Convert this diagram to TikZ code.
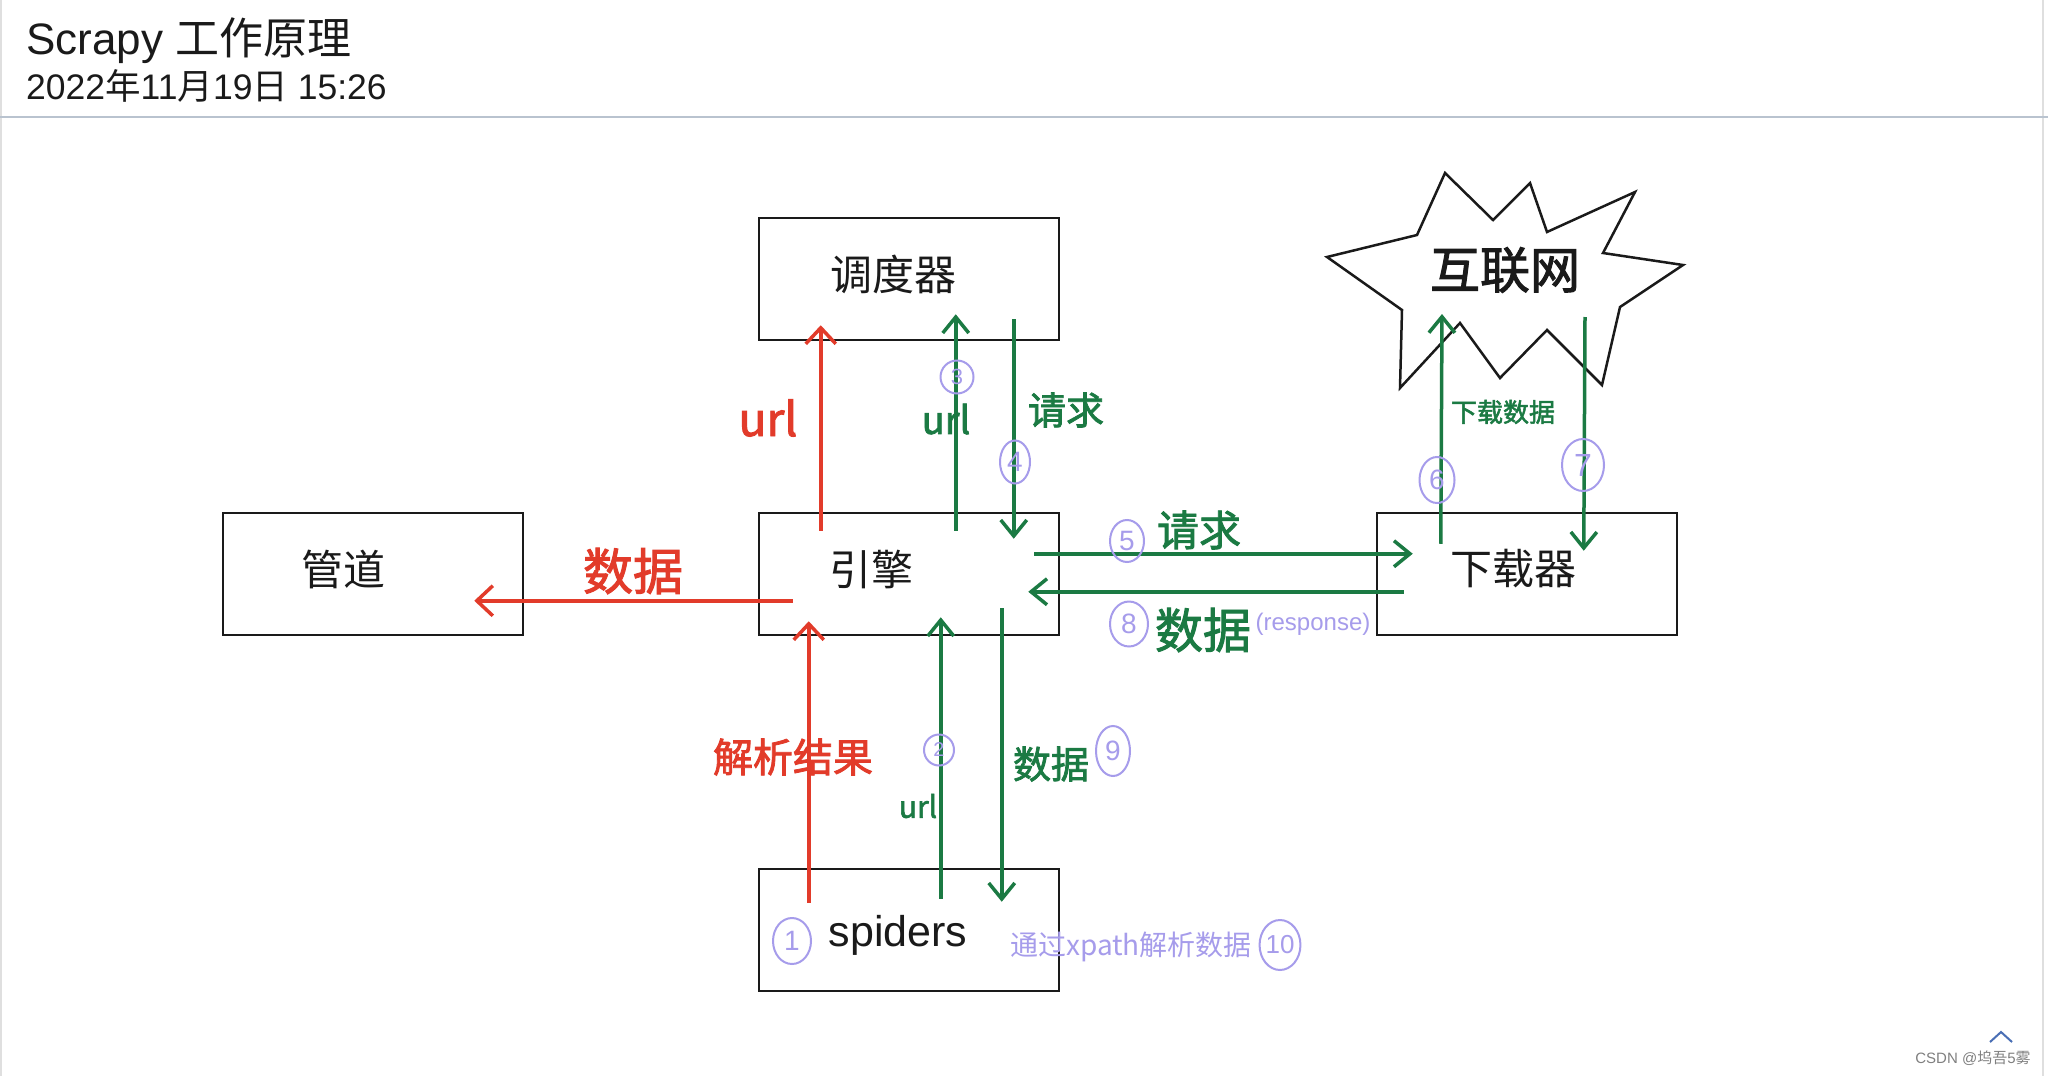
\documentclass[tikz,border=0pt]{standalone}
\usepackage{fontspec}
\setmainfont{Liberation Sans}
\newfontfamily\cjk{Noto Sans CJK SC}
\newfontfamily\cjkb[FakeBold=2]{Noto Sans CJK SC}
\usetikzlibrary{arrows.meta,shapes.geometric,calc}
\definecolor{hred}{HTML}{E23B2A}
\definecolor{hgreen}{HTML}{1B7A43}
\definecolor{lav}{HTML}{A69CEB}
\definecolor{sepc}{HTML}{B9C3CF}
\definecolor{ink}{HTML}{1A1A1A}
\definecolor{chev}{HTML}{4A6FB5}
\newcommand\hwf[1]{\fontsize{#1}{#1}\selectfont\cjkb}
\newcommand\nf[1]{\fontsize{#1}{#1}\selectfont}
\tikzset{
  box/.style={draw=ink, line width=2.5pt, minimum width=300pt, minimum height=122pt, inner sep=0pt},
  btext/.style={inner sep=0pt, text=ink, font=\nf{42}\cjk},
  lbl/.style={inner sep=0pt},
  numc/.style={ellipse, draw=lav, line width=2pt, text=lav, inner sep=0pt, font=\nf{28}},
  rarr/.style={draw=hred, line width=4pt, -{Straight Barb[length=16pt,width=30pt,line width=3.5pt]}},
  garr/.style={draw=hgreen, line width=3.5pt, -{Straight Barb[length=16pt,width=26pt,line width=3.5pt]}},
}
\begin{document}
\begin{tikzpicture}[x=1pt,y=-1pt]
\useasboundingbox (0,0) rectangle (2048,1076);
\fill[white] (0,0) rectangle (2048,1076);
% page frame
\draw[gray!25, line width=2pt] (1,0) -- (1,1076);
\draw[gray!25, line width=2pt] (2043,0) -- (2043,1076);
\draw[sepc, line width=2.5pt] (0,117) -- (2048,117);
% header
\node[anchor=base west, inner sep=0pt, text=ink] (title) at (26,54) {\nf{44}Scrapy {\cjk 工作原理}};
\node[anchor=base west, inner sep=0pt, text=ink] (date) at (26,99) {\nf{35.5}2022{\cjk 年}11{\cjk 月}19{\cjk 日} 15:26};
% boxes
\node[box] (sched) at (909,279) {};
\node[box] (pipe) at (373,574) {};
\node[box] (engine) at (909,574) {};
\node[box] (down) at (1527,574) {};
\node[box] (spider) at (909,930) {};
\node[btext] (schedT) at (893,274) {调度器};
\node[btext] (pipeT) at (343,569) {管道};
\node[btext] (engineT) at (871,569) {引擎};
\node[btext] (downT) at (1513,569) {下载器};
\node[inner sep=0pt, text=ink, font=\nf{43}] (spiderT) at (898,935) {spiders};
% internet star
\draw[ink, line width=2.5pt, line join=miter]
  (1327,257) -- (1417,235) -- (1445,173) -- (1493,220) -- (1530,183) -- (1547,232)
  -- (1635,192) -- (1603,253) -- (1683,265) -- (1620,307) -- (1602,385) -- (1547,330)
  -- (1500,378) -- (1460,323) -- (1400,388) -- (1402,310) -- cycle;
\node[lbl, text=ink, font=\hwf{50}] (net) at (1505,270) {互联网};
% anchor coordinates
\coordinate (a1s) at ($(engine.north west)+(63,19)$);
\coordinate (a1e) at ($(sched.south west)+(63,-16)$);
\coordinate (a3s) at ($(engine.north west)+(198,19)$);
\coordinate (a3e) at ($(sched.south west)+(198,-27)$);
\coordinate (a4s) at ($(sched.south west)+(256,-22)$);
\coordinate (a4e) at ($(engine.north west)+(256,27)$);
\coordinate (a5s) at ($(engine.north east)+(-26,42)$);
\coordinate (a5e) at ($(down.north west)+(37,42)$);
\coordinate (a8s) at ($(down.north west)+(28,80)$);
\coordinate (a8e) at ($(engine.north east)+(-32,80)$);
\coordinate (ads) at ($(engine.north west)+(35,89)$);
\coordinate (ade) at ($(pipe.north east)+(-50,89)$);
\coordinate (a1bs) at ($(spider.north west)+(51,35)$);
\coordinate (a1be) at ($(engine.south west)+(51,-15)$);
\coordinate (a2s) at ($(spider.north west)+(183,31)$);
\coordinate (a2e) at ($(engine.south west)+(183,-19)$);
\coordinate (a9s) at ($(engine.south west)+(244,-28)$);
\coordinate (a9e) at ($(spider.north west)+(244,34)$);
\coordinate (a6s) at ($(down.north west)+(65,32)$);
\coordinate (a6e) at (1442,314);
\coordinate (a7s) at (1585,317);
\coordinate (a7e) at ($(down.north west)+(208,39)$);
% arrows
\draw[rarr] (a1s) -- (a1e);
\draw[garr] (a3s) -- (a3e);
\draw[garr] (a4s) -- (a4e);
\draw[garr] (a5s) -- (a5e);
\draw[garr] (a8s) -- (a8e);
\draw[rarr] (ads) -- (ade);
\draw[rarr] (a1bs) -- (a1be);
\draw[garr] (a2s) -- (a2e);
\draw[garr] (a9s) -- (a9e);
\draw[garr] (a6s) -- (a6e);
\draw[garr] (a7s) -- (a7e);
% labels
\node[lbl, text=hred, font=\hwf{46}] (lurlr) at (768,418) {url};
\node[lbl, text=hgreen, font=\hwf{38}] (lurlg) at (946,419) {url};
\node[lbl, text=hgreen, font=\hwf{38}] (lreq4) at (1066,410) {请求};
\node[lbl, text=hgreen, font=\hwf{42}] (lreq5) at (1199,530) {请求};
\node[lbl, text=hgreen, font=\hwf{48}] (ldata8) at (1203,630) {数据};
\node[lbl, text=lav, font=\nf{24}] (lresp) at (1313,624) {(response)};
\node[lbl, text=hred, font=\hwf{50}] (ldatar) at (633,571) {数据};
\node[lbl, text=hred, font=\hwf{40}] (lparse) at (793,757) {解析结果};
\node[lbl, text=hgreen, font=\hwf{30}] (lurl2) at (918,806) {url};
\node[lbl, text=hgreen, font=\hwf{38}] (ldata9) at (1051,764) {数据};
\node[lbl, text=hgreen, font=\hwf{26}] (ldl) at (1503,412) {下载数据};
\node[lbl, text=lav, font=\nf{28}\cjk] (lxpath) at (1131,947) {通过xpath解析数据};
% numbered circles
\node[numc, minimum width=33pt, minimum height=33pt, font=\nf{22}] (n3) at (957,377) {3};
\node[numc, minimum width=30pt, minimum height=43pt] (n4) at (1015,462) {4};
\node[numc, minimum width=34pt, minimum height=42pt] (n5) at (1127,541) {5};
\node[numc, minimum width=38pt, minimum height=45pt] (n8) at (1129,624) {8};
\node[numc, minimum width=35pt, minimum height=46pt] (n6) at (1437,480) {6};
\node[numc, minimum width=42pt, minimum height=52pt, font=\nf{32}] (n7) at (1583,465) {7};
\node[numc, minimum width=38pt, minimum height=46pt] (n1) at (792,941) {1};
\node[numc, minimum width=30pt, minimum height=31pt, font=\nf{20}] (n2) at (939,750) {2};
\node[numc, minimum width=34pt, minimum height=50pt] (n9) at (1113,751) {9};
\node[numc, minimum width=39pt, minimum height=50pt, font=\nf{26}] (n10) at (1280,945) {10};
% footer
\draw[draw=chev, line width=2pt] (1990,1042) -- (2001,1032) -- (2012,1042);
\node[inner sep=0pt, text=gray, font=\nf{15}] (wm) at (1973,1058) {CSDN @{\cjk 坞吾}5{\cjk 雾}};
\end{tikzpicture}
\end{document}
